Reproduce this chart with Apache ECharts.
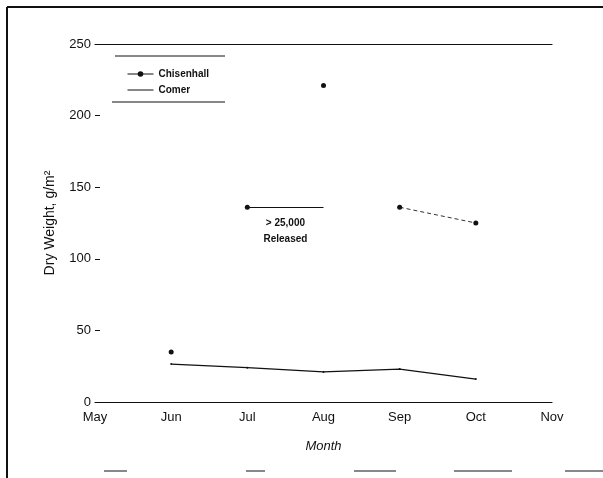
<!DOCTYPE html>
<html>
<head>
<meta charset="utf-8">
<script src="https://cdn.jsdelivr.net/npm/echarts@6/dist/echarts.min.js"></script>
<style>html,body{margin:0;padding:0;background:#fff}#c{width:603px;height:478px}</style>
</head>
<body>
<div id="c"></div>
<script>
var months = ['May', 'Jun', 'Jul', 'Aug', 'Sep', 'Oct', 'Nov'];
var chisenhall = [null, 35, 136, 221, 136, 125, null];
var chisenhallLinked = [null, null, null, null, 136, 125, null];
var comer = [null, 26.5, 24, 21, 23, 16, null];
var releaseFrom = ['Jul', 136];
var releaseTo = ['Aug', 136];
var releaseText = '> 25,000\nReleased';
var yTicks = { min: 0, max: 250, interval: 50 };

var ink = '#111';
var font = 'Liberation Sans, Arial, Helvetica, sans-serif';
var chart = echarts.init(document.getElementById('c'), null, { renderer: 'canvas' });
chart.setOption({
  animation: false,
  backgroundColor: '#fff',
  textStyle: { fontFamily: font, color: ink },
  grid: { left: 95, right: 51, top: 44, bottom: 76 },
  legend: {
    orient: 'vertical', left: 122, top: 64, itemWidth: 26, itemHeight: 7, itemGap: 6,
    textStyle: { fontSize: 10, color: ink, fontFamily: font, fontWeight: 'bold' },
    data: [
      { name: 'Chisenhall', lineStyle: { opacity: 1, color: ink, width: 1 } },
      { name: 'Comer', itemStyle: { opacity: 0 }, lineStyle: { width: 1 } }
    ]
  },
  xAxis: [{
    type: 'category', data: months, boundaryGap: false,
    axisLine: { lineStyle: { color: ink, width: 1.2 } },
    axisTick: { show: false },
    axisLabel: { color: ink, fontSize: 13, margin: 9 },
    splitLine: { show: false },
    name: 'Month', nameLocation: 'middle', nameGap: 38,
    nameTextStyle: { fontStyle: 'italic', fontSize: 13, color: ink }
  }, {
    type: 'category', data: months, boundaryGap: false, position: 'top',
    axisLine: { lineStyle: { color: ink, width: 1.2 } },
    axisTick: { show: false }, axisLabel: { show: false }, splitLine: { show: false }
  }],
  yAxis: {
    type: 'value', min: yTicks.min, max: yTicks.max, interval: yTicks.interval,
    axisLine: { show: false },
    axisTick: { show: true, inside: true, length: 5, lineStyle: { color: ink } },
    axisLabel: { color: ink, fontSize: 13, margin: 4 },
    splitLine: { show: false },
    name: 'Dry Weight, g/m\u00b2', nameLocation: 'middle', nameRotate: 90, nameGap: 38,
    nameTextStyle: { fontSize: 14, color: ink }
  },
  series: [{
    name: 'Chisenhall', type: 'line', data: chisenhall,
    symbol: 'circle', symbolSize: 5, showSymbol: true,
    itemStyle: { color: ink },
    lineStyle: { opacity: 0, color: ink, width: 1 },
    markLine: {
      silent: true, symbol: 'none',
      lineStyle: { color: ink, type: 'solid', width: 1.2 },
      label: { show: true, position: 'insideMiddleBottom', formatter: releaseText,
        fontSize: 10, color: ink, lineHeight: 16, distance: 8, fontWeight: 'bold' },
      data: [[{ coord: releaseFrom }, { coord: releaseTo }]]
    }
  }, {
    name: 'Chisenhall link', type: 'line', data: chisenhallLinked,
    symbol: 'none', lineStyle: { color: '#333', width: 1, type: [4, 3] }
  }, {
    name: 'Comer', type: 'line', data: comer,
    symbol: 'circle', symbolSize: 2,
    itemStyle: { color: ink },
    lineStyle: { color: ink, width: 1.2 }
  }],
  graphic: [
    { type: 'line', shape: { x1: 7, y1: 7, x2: 603, y2: 7 }, style: { stroke: ink, lineWidth: 2 } },
    { type: 'line', shape: { x1: 7, y1: 7, x2: 7, y2: 478 }, style: { stroke: ink, lineWidth: 2 } },
    { type: 'line', shape: { x1: 115, y1: 56, x2: 225, y2: 56 }, style: { stroke: ink, lineWidth: 1 } },
    { type: 'line', shape: { x1: 112, y1: 102, x2: 225, y2: 102 }, style: { stroke: ink, lineWidth: 1 } },
    { type: 'line', shape: { x1: 104, y1: 471, x2: 127, y2: 471 }, style: { stroke: '#888', lineWidth: 2 } },
    { type: 'line', shape: { x1: 246, y1: 471, x2: 265, y2: 471 }, style: { stroke: '#888', lineWidth: 2 } },
    { type: 'line', shape: { x1: 354, y1: 471, x2: 396, y2: 471 }, style: { stroke: '#888', lineWidth: 2 } },
    { type: 'line', shape: { x1: 454, y1: 471, x2: 512, y2: 471 }, style: { stroke: '#888', lineWidth: 2 } },
    { type: 'line', shape: { x1: 565, y1: 471, x2: 603, y2: 471 }, style: { stroke: '#888', lineWidth: 2 } }
  ]
});
</script>
</body>
</html>
